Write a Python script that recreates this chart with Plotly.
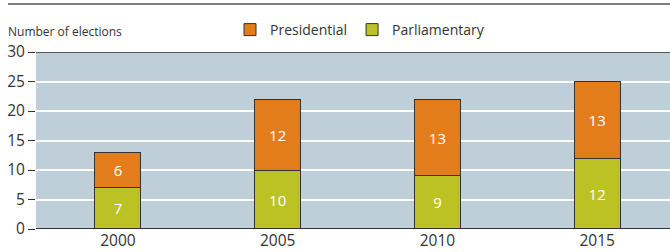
import plotly.graph_objects as go

years = ["2000", "2005", "2010", "2015"]
parliamentary = [7, 10, 9, 12]
presidential = [6, 12, 13, 13]
y_ticks = [0, 5, 10, 15, 20, 25, 30]

W, H = 670, 252
L, R, T, B = 36, 0, 52, 23
pw, ph = W - L - R, H - T - B

def px_x(p):
    return (p - L) / pw

def px_y(p):
    return (H - B - p) / ph

dark = "#333333"
fig = go.Figure()
fig.add_trace(go.Bar(
    x=years, y=parliamentary, name="Parliamentary",
    marker=dict(color="#BDC224", line=dict(color=dark, width=1)),
    width=0.288, text=[str(v) for v in parliamentary], textposition="inside",
    insidetextanchor="middle", textfont=dict(color="white", size=15),
    showlegend=True,
))
fig.add_trace(go.Bar(
    x=years, y=presidential, name="Presidential",
    marker=dict(color="#E37D1C", line=dict(color=dark, width=1)),
    width=0.288, text=[str(v) for v in presidential], textposition="inside",
    insidetextanchor="middle", textfont=dict(color="white", size=15),
))

fig.update_layout(
    barmode="stack",
    width=W, height=H,
    margin=dict(l=L, r=R, t=T, b=B, pad=0, autoexpand=False),
    paper_bgcolor="white",
    plot_bgcolor="#BECFDA",
    font=dict(family="Open Sans, Noto Sans, sans-serif", size=13, color="#333333"),
    legend=dict(orientation="h", x=px_x(230), xanchor="left", y=px_y(30), yanchor="middle",
                traceorder="reversed", font=dict(size=14), bgcolor="rgba(0,0,0,0)",
                itemwidth=30),
    xaxis=dict(type="category", range=[-0.513, 3.456], showgrid=False, ticks="",
               showline=False, tickfont=dict(size=15.5), automargin=False),
    yaxis=dict(range=[0, 30], tickvals=y_ticks, gridcolor="white", gridwidth=1.5,
               ticks="outside", ticklen=7, tickcolor=dark, zeroline=False,
               showline=False, tickfont=dict(size=15.5), automargin=False),
    bargap=0.7,
    annotations=[dict(text="Number of elections", xref="paper", yref="paper",
                      x=px_x(6), y=px_y(32), xanchor="left", yanchor="middle",
                      showarrow=False, font=dict(size=12, color="#333333"))],
    shapes=[
        dict(type="line", xref="paper", yref="y", x0=0, x1=1, y0=30, y1=30,
             line=dict(color=dark, width=1.5)),
        dict(type="line", xref="paper", yref="y", x0=0, x1=1, y0=0, y1=0,
             line=dict(color=dark, width=2)),
        dict(type="line", xref="paper", yref="paper", x0=px_x(8), x1=1,
             y0=px_y(4), y1=px_y(4), line=dict(color="#555555", width=1.5)),
    ],
)
fig.write_html("out.html", config={"displayModeBar": False},
               post_script="document.body.style.margin='0';document.body.style.overflow='hidden';")
